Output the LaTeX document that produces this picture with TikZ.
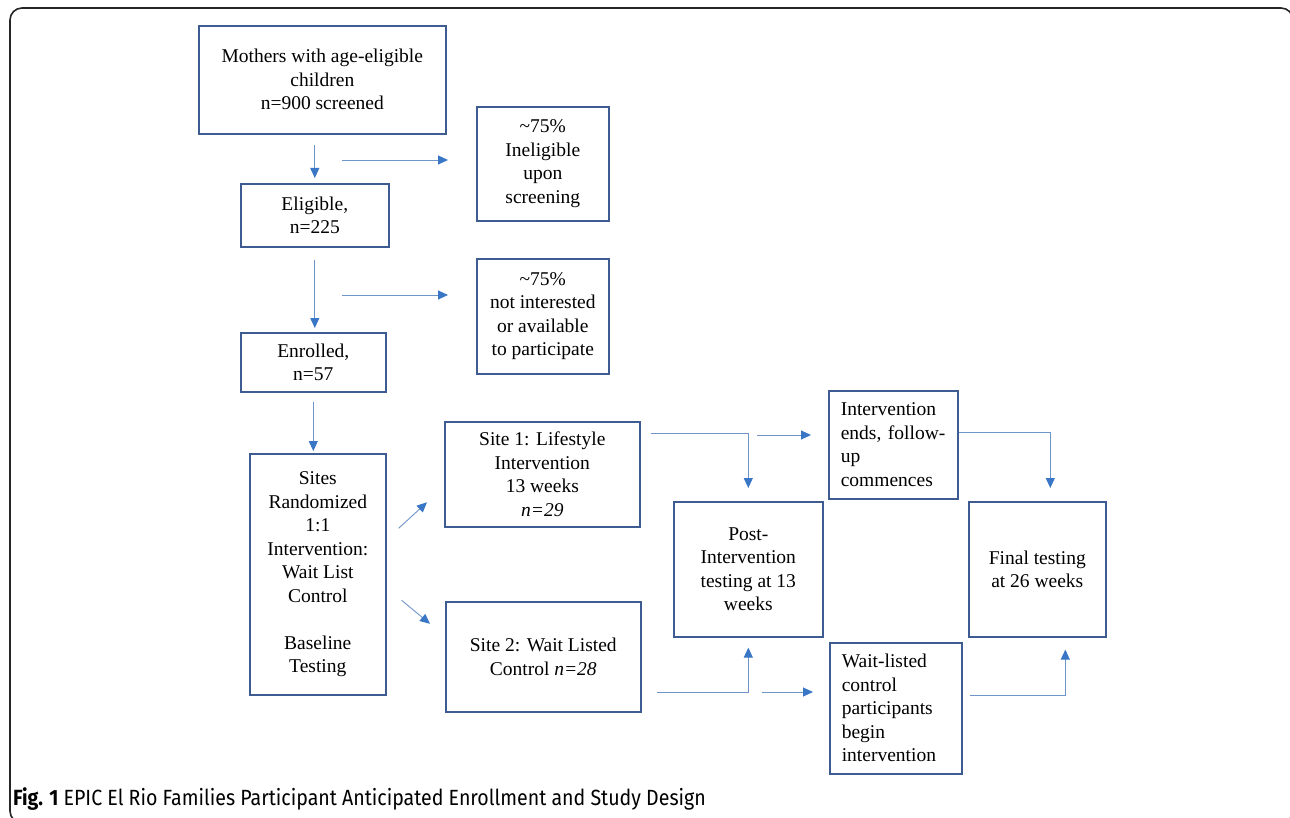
\documentclass[tikz,border=0pt]{standalone}
\usepackage{fontspec}
\setmainfont{Liberation Serif}
\newfontfamily\captionfont{Fira Sans}
\usepackage{tikz}
\usepackage{xcolor}
\usetikzlibrary{arrows.meta}
\definecolor{box-blue}{RGB}{62,92,145}
\definecolor{line-blue}{RGB}{110,148,200}
\definecolor{tip-blue}{RGB}{58,118,198}
\tikzset{
    flow-box/.style = {draw=box-blue, line width=1.6pt, rectangle, anchor=north west, inner sep=0pt, align=center, font=\fontsize{19.5}{23.5}\selectfont},
    flow-box-left/.style = {flow-box, align=left, inner xsep=12pt},
    flow-arrow/.style = {draw=line-blue, line width=0.9pt, -{Triangle[length=10pt,width=9pt,color=tip-blue]}},
}

\begin{document}
\begin{tikzpicture}[x=1pt, y=-1pt]
\useasboundingbox (0,0) rectangle (1290,818);
\draw[line width=1.6pt, draw=black!85, rounded corners=12pt] (10,8) rectangle (1293,823);

\node[flow-box, minimum width=247pt, minimum height=108pt] (mothers) at (198,25) {Mothers with age-eligible\\children\\n=900 screened};
\node[flow-box, minimum width=148pt, minimum height=63pt] (eligible) at (240,183) {Eligible,\\n=225};
\node[flow-box, minimum width=132pt, minimum height=114pt] (ineligible) at (476,106) {\textasciitilde75\%\\Ineligible\\upon\\screening};
\node[flow-box, minimum width=145pt, minimum height=59pt] (enrolled) at (240,332) {Enrolled,\\n=57};
\node[flow-box, minimum width=132pt, minimum height=115pt] (not-interested) at (476,258) {\textasciitilde75\%\\not interested\\or available\\to participate};
\node[flow-box, minimum width=136pt, minimum height=241pt] (sites) at (249,453) {Sites\\Randomized\\1:1\\Intervention:\\Wait List\\Control\\[23.5pt]Baseline\\Testing};
\node[flow-box, minimum width=195pt, minimum height=105pt] (site-1) at (444,421) {Site 1: Lifestyle\\Intervention\\13 weeks\\\textit{n=29}};
\node[flow-box, minimum width=195pt, minimum height=110pt] (site-2) at (445,601) {Site 2: Wait Listed\\Control \textit{n=28}};
\node[flow-box, minimum width=149pt, minimum height=135pt] (post) at (673,501) {Post-\\Intervention\\testing at 13\\weeks};
\node[flow-box-left, text width=105pt, minimum height=108pt] (ends) at (828,390) {Intervention\\ends, follow-\\up\\commences};
\node[flow-box-left, text width=108pt, minimum height=131pt] (wait-listed) at (829,642) {Wait-listed\\control\\participants\\begin\\intervention};
\node[flow-box, minimum width=137pt, minimum height=135pt] (final) at (968,501) {Final testing\\at 26 weeks};

\coordinate (drop-1) at (342,160);
\coordinate (drop-2) at (342,295);
\coordinate (ends-in) at (757,435);
\coordinate (wait-in) at (762,692);

\draw[flow-arrow, shorten <=10pt, shorten >=5pt] (eligible.north |- mothers.south) -- (eligible.north);
\draw[flow-arrow, shorten <=12pt, shorten >=4pt] (eligible.south) -- (eligible.south |- enrolled.north);
\draw[flow-arrow, shorten <=9pt, shorten >=2pt] (enrolled.south) -- (enrolled.south |- sites.north);
\draw[flow-arrow, shorten >=28pt] (drop-1) -- (drop-1 -| ineligible.west);
\draw[flow-arrow, shorten >=28pt] (drop-2) -- (drop-2 -| not-interested.west);

\draw[flow-arrow] ([shift={(12pt,46pt)}]sites.east) -- ([shift={(-17pt,-28pt)}]site-1.west);
\draw[flow-arrow] ([shift={(15pt,-26pt)}]sites.east) -- ([shift={(-15pt,33pt)}]site-2.west);

\draw[flow-arrow, shorten >=13pt] ([shift={(10pt,41pt)}]site-1.east) -| (post.north);
\draw[flow-arrow, shorten >=17pt] (ends-in) -- (ends-in -| ends.west);
\draw[flow-arrow, shorten >=13pt] ([yshift=12pt]ends.east) -| ([xshift=13pt]final.north);
\draw[flow-arrow, shorten >=10pt] ([shift={(15pt,-36pt)}]site-2.east) -| (post.south);
\draw[flow-arrow, shorten >=16pt] (wait-in) -- (wait-in -| wait-listed.west);
\draw[flow-arrow, shorten >=12pt] ([shift={(7pt,13pt)}]wait-listed.east) -| ([xshift=28pt]final.south);

\node[anchor=base west, inner sep=0pt, font=\captionfont\fontsize{22}{26}\selectfont] (caption) at (13,805) {\scalebox{0.89}[1]{\textbf{Fig. 1} EPIC El Rio Families Participant Anticipated Enrollment and Study Design}};
\end{tikzpicture}
\end{document}
